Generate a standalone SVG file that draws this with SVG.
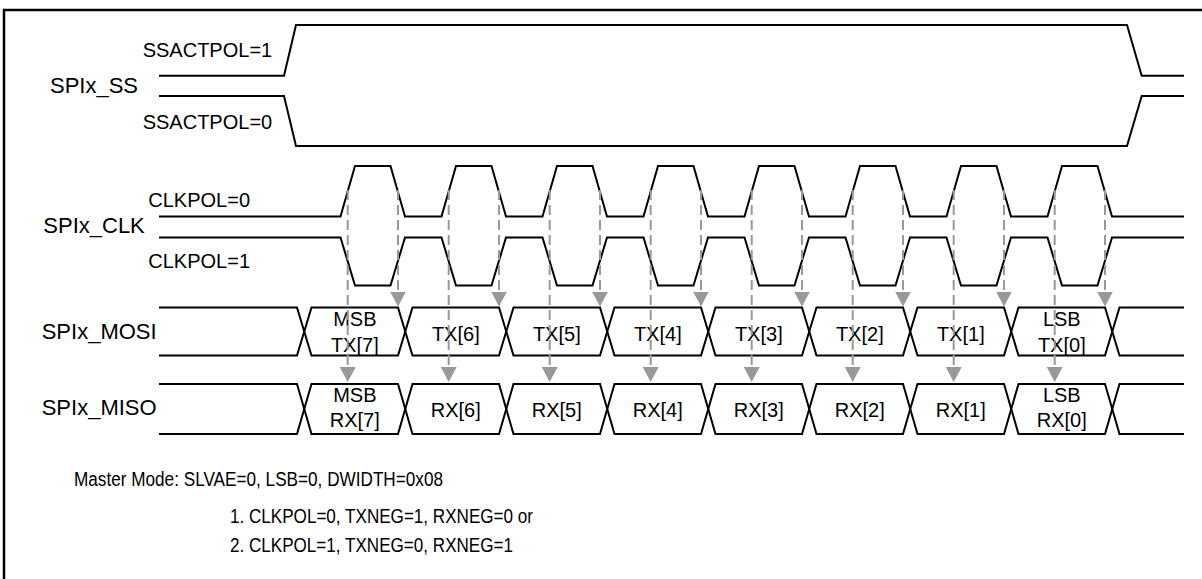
<svg xmlns="http://www.w3.org/2000/svg" width="1202" height="579" viewBox="0 0 1202 579">
<style>
.w{fill:none;stroke:#000;stroke-width:2;stroke-linejoin:miter}
.frame{fill:none;stroke:#000;stroke-width:2.5}
.t{font-family:"Liberation Sans",Arial,sans-serif;fill:#000}
.lbl{font-size:22px}
.sub{font-size:20px}
.cell{font-size:20px;text-anchor:middle}
.note{font-size:20px}
.d{fill:none;stroke:#999;stroke-width:2;stroke-dasharray:10,5}
</style>
<defs>
<marker id="ah" markerUnits="userSpaceOnUse" markerWidth="15" markerHeight="16" viewBox="0 0 15 16" refX="15" refY="8" orient="auto">
<path d="M0,0 L15,8 L0,16 Z" fill="#999"/>
</marker>
</defs>
<rect width="1202" height="579" fill="#fff"/>
<path class="frame" d="M4,579 V10 H1202"/>

<g id="ss">
<text class="t lbl" x="50" y="93.3">SPIx_SS</text>
<text class="t sub" x="142.7" y="56.7">SSACTPOL=1</text>
<text class="t sub" x="142.7" y="129.3">SSACTPOL=0</text>
<path class="w" d="M159,75.7 H284 L296,25 H1127 L1141.7,75.7 H1184"/>
<path class="w" d="M159,96 H284 L296,146 H1127 L1141.7,96 H1184"/>
</g>

<g id="clk">
<text class="t lbl" x="43.3" y="233.3">SPIx_CLK</text>
<text class="t sub" x="148.3" y="206.7">CLKPOL=0</text>
<text class="t sub" x="148.3" y="268.3">CLKPOL=1</text>
<path class="w" d="M159,216.5 H340.5 L355,166 H390.5 L405,216.5 H441.5 L456,166 H491.5 L506,216.5 H542.5 L557,166 H592.5 L607,216.5 H643.5 L658,166 H693.5 L708,216.5 H744.5 L759,166 H794.5 L809,216.5 H845.5 L860,166 H895.5 L910,216.5 H946.5 L961,166 H996.5 L1011,216.5 H1047.5 L1062,166 H1097.5 L1112,216.5 H1184"/>
<path class="w" d="M159,237.5 H340.5 L355,285.5 H390.5 L405,237.5 H441.5 L456,285.5 H491.5 L506,237.5 H542.5 L557,285.5 H592.5 L607,237.5 H643.5 L658,285.5 H693.5 L708,237.5 H744.5 L759,285.5 H794.5 L809,237.5 H845.5 L860,285.5 H895.5 L910,237.5 H946.5 L961,285.5 H996.5 L1011,237.5 H1047.5 L1062,285.5 H1097.5 L1112,237.5 H1184"/>
</g>

<g id="mosi">
<text class="t lbl" x="41.7" y="339">SPIx_MOSI</text>
<path class="w" d="M159,307.5 H297 L311.5,355.5 H398 L412.5,307.5 H499 L513.5,355.5 H600 L614.5,307.5 H701 L715.5,355.5 H802 L816.5,307.5 H903 L917.5,355.5 H1004 L1018.5,307.5 H1105 L1119.5,355.5 H1184"/>
<path class="w" d="M159,355.5 H297 L311.5,307.5 H398 L412.5,355.5 H499 L513.5,307.5 H600 L614.5,355.5 H701 L715.5,307.5 H802 L816.5,355.5 H903 L917.5,307.5 H1004 L1018.5,355.5 H1105 L1119.5,307.5 H1184"/>
<text class="t cell" x="354.8" y="326">MSB</text>
<text class="t cell" x="354.8" y="351.7">TX[7]</text>
<text class="t cell" x="455.8" y="340.7">TX[6]</text>
<text class="t cell" x="556.8" y="340.7">TX[5]</text>
<text class="t cell" x="657.8" y="340.7">TX[4]</text>
<text class="t cell" x="758.8" y="340.7">TX[3]</text>
<text class="t cell" x="859.8" y="340.7">TX[2]</text>
<text class="t cell" x="960.8" y="340.7">TX[1]</text>
<text class="t cell" x="1061.8" y="326">LSB</text>
<text class="t cell" x="1061.8" y="351.7">TX[0]</text>
</g>

<g id="miso">
<text class="t lbl" x="41.7" y="415">SPIx_MISO</text>
<path class="w" d="M159,384 H297 L311.5,434 H398 L412.5,384 H499 L513.5,434 H600 L614.5,384 H701 L715.5,434 H802 L816.5,384 H903 L917.5,434 H1004 L1018.5,384 H1105 L1119.5,434 H1184"/>
<path class="w" d="M159,434 H297 L311.5,384 H398 L412.5,434 H499 L513.5,384 H600 L614.5,434 H701 L715.5,384 H802 L816.5,434 H903 L917.5,384 H1004 L1018.5,434 H1105 L1119.5,384 H1184"/>
<text class="t cell" x="354.8" y="401.7">MSB</text>
<text class="t cell" x="354.8" y="427.3">RX[7]</text>
<text class="t cell" x="455.8" y="416.7">RX[6]</text>
<text class="t cell" x="556.8" y="416.7">RX[5]</text>
<text class="t cell" x="657.8" y="416.7">RX[4]</text>
<text class="t cell" x="758.8" y="416.7">RX[3]</text>
<text class="t cell" x="859.8" y="416.7">RX[2]</text>
<text class="t cell" x="960.8" y="416.7">RX[1]</text>
<text class="t cell" x="1061.8" y="401.7">LSB</text>
<text class="t cell" x="1061.8" y="427.3">RX[0]</text>
</g>

<g id="connectors">
<path class="d" marker-end="url(#ah)" d="M347.7,190 V382"/>
<path class="d" marker-end="url(#ah)" d="M448.7,190 V382"/>
<path class="d" marker-end="url(#ah)" d="M549.7,190 V382"/>
<path class="d" marker-end="url(#ah)" d="M650.7,190 V382"/>
<path class="d" marker-end="url(#ah)" d="M751.7,190 V382"/>
<path class="d" marker-end="url(#ah)" d="M852.7,190 V382"/>
<path class="d" marker-end="url(#ah)" d="M953.7,190 V382"/>
<path class="d" marker-end="url(#ah)" d="M1054.7,190 V382"/>
<path class="d" marker-end="url(#ah)" d="M398,190 V306.5"/>
<path class="d" marker-end="url(#ah)" d="M499,190 V306.5"/>
<path class="d" marker-end="url(#ah)" d="M600,190 V306.5"/>
<path class="d" marker-end="url(#ah)" d="M701,190 V306.5"/>
<path class="d" marker-end="url(#ah)" d="M802,190 V306.5"/>
<path class="d" marker-end="url(#ah)" d="M903,190 V306.5"/>
<path class="d" marker-end="url(#ah)" d="M1004,190 V306.5"/>
<path class="d" marker-end="url(#ah)" d="M1105,190 V306.5"/>
</g>

<g id="notes">
<text class="t note" x="74" y="485.7" textLength="369" lengthAdjust="spacingAndGlyphs">Master Mode: SLVAE=0, LSB=0, DWIDTH=0x08</text>
<text class="t note" x="230" y="523.3" textLength="303" lengthAdjust="spacingAndGlyphs">1. CLKPOL=0, TXNEG=1, RXNEG=0 or</text>
<text class="t note" x="230" y="551.7" textLength="283" lengthAdjust="spacingAndGlyphs">2. CLKPOL=1, TXNEG=0, RXNEG=1</text>
</g>
</svg>
